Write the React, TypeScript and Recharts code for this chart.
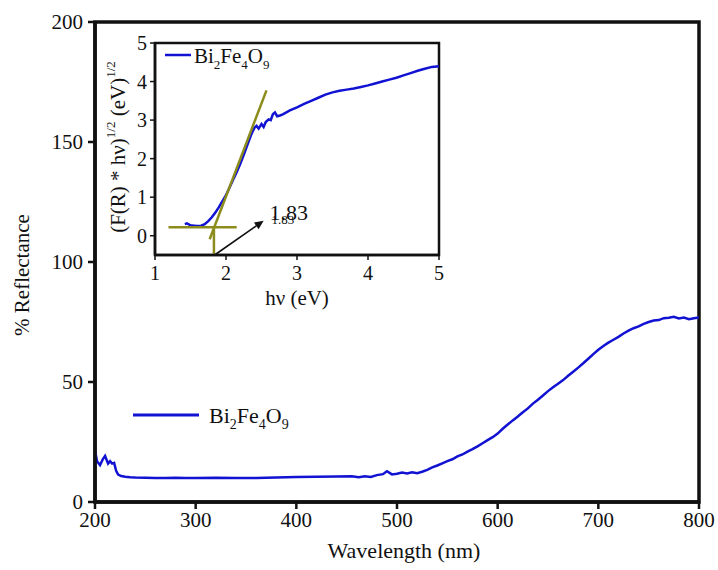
import React from 'react'
import { LineChart, Line, XAxis, YAxis, ReferenceArea, ReferenceLine, ReferenceDot, Legend } from 'recharts'

// main spectrum
const wavelength = [
  200, 202, 205, 208, 210, 213, 215, 217, 219, 221, 223, 226, 230, 235, 240, 250, 260, 270, 280, 290,
  300, 320, 340, 360, 380, 400, 420, 440, 455, 462, 468, 474, 480, 486, 490, 495, 500, 505, 510, 515,
  520, 525, 530, 535, 540, 545, 550, 555, 560, 565, 570, 575, 580, 585, 590, 595, 600, 605, 610, 615,
  620, 625, 630, 635, 640, 645, 650, 655, 660, 665, 670, 675, 680, 685, 690, 695, 700, 705, 710, 715,
  720, 725, 730, 735, 740, 745, 750, 755, 760, 765, 770, 775, 780, 785, 790, 795, 800,
]
const reflectance = [
  21.5, 17, 15.4, 18, 19.2, 16, 17, 16, 16.3, 13, 11.4, 10.8, 10.5, 10.3, 10.2, 10.1, 10.0, 10.0, 10.1, 10.0,
  10.0, 10.1, 10.0, 10.0, 10.2, 10.4, 10.5, 10.6, 10.7, 10.3, 10.7, 10.4, 11.2, 11.6, 12.8, 11.5, 11.8, 12.3, 11.9, 12.4,
  12.0, 12.6, 13.4, 14.4, 15.2, 16.1, 17.0, 17.8, 19.0, 19.8, 21.0, 22.0, 23.2, 24.5, 25.8, 27.0, 28.5, 30.5, 32.3, 34.0,
  35.6, 37.4, 39.0, 41.0, 42.6, 44.4, 46.2, 47.8, 49.3, 50.8, 52.6, 54.3, 56.0, 57.8, 59.7, 61.6, 63.4, 65.0, 66.4, 67.6,
  68.8, 70.2, 71.4, 72.4, 73.2, 74.2, 75.0, 75.6, 75.8, 76.6, 76.8, 77.2, 76.5, 76.9, 76.2, 76.6, 76.9,
]
const xTicks = [200, 300, 400, 500, 600, 700, 800]
const yTicks = [0, 50, 100, 150, 200]

// Tauc plot (inset)
const photonEnergy = [
  1.42, 1.45, 1.5, 1.55, 1.6, 1.65, 1.7, 1.75, 1.8, 1.85, 1.9, 1.95, 2.0, 2.05, 2.1, 2.15, 2.2, 2.25, 2.3, 2.35,
  2.4, 2.43, 2.46, 2.5, 2.53, 2.56, 2.6, 2.63, 2.66, 2.69, 2.72, 2.76, 2.8, 2.9, 3.0, 3.1, 3.2, 3.3, 3.4, 3.5,
  3.6, 3.7, 3.8, 3.9, 4.0, 4.1, 4.2, 4.3, 4.4, 4.5, 4.6, 4.7, 4.8, 4.9, 5.0,
]
const taucValue = [
  0.3, 0.32, 0.27, 0.26, 0.25, 0.26, 0.3, 0.38, 0.48, 0.6, 0.74, 0.9, 1.05, 1.25, 1.45, 1.65, 1.86, 2.1, 2.35, 2.6,
  2.8, 2.85, 2.78, 2.9, 2.82, 2.95, 3.02, 3.0, 3.15, 3.2, 3.1, 3.12, 3.15, 3.25, 3.33, 3.42, 3.5, 3.58, 3.66, 3.72,
  3.76, 3.79, 3.82, 3.86, 3.9, 3.95, 4.0, 4.05, 4.1, 4.16, 4.22, 4.28, 4.33, 4.38, 4.4,
]
const insetXTicks = [1, 2, 3, 4, 5]
const insetYTicks = [0, 1, 2, 3, 4, 5]
const bandGap = 1.83

const FONT = 'Liberation Serif, Times New Roman, DejaVu Serif, serif'
const BLUE = '#1212d2'
const OLIVE = '#8c8c1c'

const spectrum = wavelength.map((w, i) => ({ w, r: reflectance[i] }))
const tauc = photonEnergy.map((e, i) => ({ e, f: taucValue[i] }))

function Formula({ x, y, size }: { x: number; y: number; size: number }) {
  const sub = Math.round(size * 0.62)
  const d = Math.round(size * 0.28)
  return (
    <text x={x} y={y} fontSize={size} style={{ fontFamily: FONT }} fill="#111">
      Bi
      <tspan fontSize={sub} dy={d}>2</tspan>
      <tspan fontSize={size} dy={-d}>Fe</tspan>
      <tspan fontSize={sub} dy={d}>4</tspan>
      <tspan fontSize={size} dy={-d}>O</tspan>
      <tspan fontSize={sub} dy={d}>9</tspan>
    </text>
  )
}

function MainLegend() {
  return (
    <svg width={170} height={32} style={{ overflow: 'visible' }}>
      <line x1={0} y1={12} x2={66} y2={12} stroke={BLUE} strokeWidth={3} />
      <Formula x={76} y={20} size={22} />
    </svg>
  )
}

function InsetLegend() {
  return (
    <svg width={120} height={30} style={{ overflow: 'visible' }}>
      <line x1={0} y1={12} x2={26} y2={12} stroke={BLUE} strokeWidth={2.5} />
      <Formula x={29} y={20} size={21} />
    </svg>
  )
}

function Arrow(props: any) {
  const { x1, y1, x2, y2 } = props
  if (x1 == null) return null
  const ang = Math.atan2(y2 - y1, x2 - x1)
  const len = 9
  const w = 4
  const bx = x2 - len * Math.cos(ang)
  const by = y2 - len * Math.sin(ang)
  const px = -Math.sin(ang) * w
  const py = Math.cos(ang) * w
  return (
    <g>
      <line x1={x1} y1={y1} x2={bx} y2={by} stroke="#111" strokeWidth={1.6} />
      <polygon points={`${x2},${y2} ${bx + px},${by + py} ${bx - px},${by - py}`} fill="#111" />
    </g>
  )
}

function GapLabel(props: any) {
  const vb = props.viewBox || {}
  const cx = vb.cx ?? vb.x
  const cy = vb.cy ?? vb.y
  if (cx == null) return null
  return (
    <g style={{ fontFamily: FONT }} fill="#111">
      <text x={cx - 17} y={cy + 11} fontSize={13}>{bandGap.toFixed(2)}</text>
      <text x={cx - 19} y={cy + 7} fontSize={22}>{bandGap.toFixed(2)}</text>
    </g>
  )
}

function Inset() {
  const tick = { fontSize: 20, fill: '#111', style: { fontFamily: FONT } }
  return (
    <LineChart width={350} height={290} data={tauc} margin={{ top: 13, right: 11, left: 15, bottom: 35 }}>
      <XAxis
        dataKey="e"
        type="number"
        domain={[1, 5]}
        ticks={insetXTicks}
        allowDataOverflow
        height={30}
        tick={tick}
        tickSize={5}
        tickMargin={6}
        axisLine={{ stroke: '#111', strokeWidth: 2.5 }}
        tickLine={{ stroke: '#111', strokeWidth: 1.5 }}
        label={(p: any) => (
          <text
            x={p.viewBox.x + p.viewBox.width / 2}
            y={p.viewBox.y + 50}
            textAnchor="middle"
            fontSize={21}
            style={{ fontFamily: FONT }}
            fill="#111"
          >
            hν (eV)
          </text>
        )}
      />
      <YAxis
        type="number"
        domain={[-0.5, 5]}
        ticks={insetYTicks}
        allowDataOverflow
        width={40}
        tick={tick}
        tickSize={5}
        tickMargin={3}
        axisLine={{ stroke: '#111', strokeWidth: 2.5 }}
        tickLine={{ stroke: '#111', strokeWidth: 1.5 }}
        label={(p: any) => {
          const x = p.viewBox.x + 3
          const y = p.viewBox.y + p.viewBox.height / 2 - 2
          return (
            <text
              x={x}
              y={y}
              transform={`rotate(-90 ${x} ${y})`}
              textAnchor="middle"
              dominantBaseline="central"
              fontSize={21}
              style={{ fontFamily: FONT }}
              fill="#111"
            >
              (F(R) * hν)
              <tspan fontSize={13} dy={-8}>1/2</tspan>
              <tspan fontSize={21} dy={8}> (eV)</tspan>
              <tspan fontSize={13} dy={-8}>1/2</tspan>
            </text>
          )
        }}
      />
      <ReferenceArea x1={1} x2={5} y1={-0.5} y2={5} fill="none" stroke="#111" strokeWidth={2.5} ifOverflow="visible" />
      <Legend
        layout="vertical"
        align="center"
        verticalAlign="middle"
        wrapperStyle={{ left: 65, top: 13, width: 'auto' }}
        content={() => <InsetLegend />}
      />
      <Line dataKey="f" stroke={BLUE} strokeWidth={2.5} dot={false} isAnimationActive={false} />
      <ReferenceLine
        segment={[{ x: 1.77, y: -0.09 }, { x: 2.57, y: 3.77 }]}
        stroke={OLIVE}
        strokeWidth={2.5}
        ifOverflow="visible"
      />
      <ReferenceLine
        segment={[{ x: 1.19, y: 0.22 }, { x: 2.15, y: 0.22 }]}
        stroke={OLIVE}
        strokeWidth={2.5}
        ifOverflow="visible"
      />
      <ReferenceLine
        segment={[{ x: bandGap, y: 0.22 }, { x: bandGap, y: -0.5 }]}
        stroke={OLIVE}
        strokeWidth={2.5}
        ifOverflow="visible"
      />
      <ReferenceLine
        segment={[{ x: 1.84, y: -0.5 }, { x: 2.53, y: 0.39 }]}
        ifOverflow="visible"
        shape={(p: any) => <Arrow {...p} />}
      />
      <ReferenceDot x={2.88} y={0.6} r={0} fill="none" stroke="none" ifOverflow="visible" label={(p: any) => <GapLabel {...p} />} />
    </LineChart>
  )
}

export default function App() {
  const tick = { fontSize: 21, fill: '#111', style: { fontFamily: FONT } }
  return (
    <div style={{ position: 'absolute', left: 0, top: 0, width: 718, height: 570, background: '#fff', fontFamily: FONT }}>
      <LineChart width={718} height={570} data={spectrum} margin={{ top: 22, right: 19, left: 10, bottom: 38 }}>
        <XAxis
          dataKey="w"
          type="number"
          domain={[200, 800]}
          ticks={xTicks}
          allowDataOverflow
          height={30}
          tick={tick}
          tickSize={7}
          tickMargin={3}
          axisLine={{ stroke: '#111', strokeWidth: 3.5 }}
          tickLine={{ stroke: '#111', strokeWidth: 2.5 }}
          label={(p: any) => (
            <text
              x={p.viewBox.x + p.viewBox.width / 2 + 7}
              y={p.viewBox.y + 56}
              textAnchor="middle"
              fontSize={22}
              style={{ fontFamily: FONT }}
              fill="#111"
            >
              Wavelength (nm)
            </text>
          )}
        />
        <YAxis
          type="number"
          domain={[0, 200]}
          ticks={yTicks}
          allowDataOverflow
          width={85}
          tick={tick}
          tickSize={7}
          tickMargin={5}
          axisLine={{ stroke: '#111', strokeWidth: 3.5 }}
          tickLine={{ stroke: '#111', strokeWidth: 2.5 }}
          label={(p: any) => {
            const x = p.viewBox.x + 12
            const y = p.viewBox.y + p.viewBox.height / 2 + 13
            return (
              <text
                x={x}
                y={y}
                transform={`rotate(-90 ${x} ${y})`}
                textAnchor="middle"
                dominantBaseline="central"
                fontSize={21}
                style={{ fontFamily: FONT }}
                fill="#111"
              >
                % Reflectance
              </text>
            )
          }}
        />
        <ReferenceArea x1={200} x2={800} y1={0} y2={200} fill="none" stroke="#111" strokeWidth={3.5} ifOverflow="visible" />
        <Legend
          layout="vertical"
          align="center"
          verticalAlign="middle"
          wrapperStyle={{ left: 133, top: 403, width: 'auto' }}
          content={() => <MainLegend />}
        />
        <Line dataKey="r" stroke={BLUE} strokeWidth={2.5} dot={false} isAnimationActive={false} />
      </LineChart>
      <div style={{ position: 'absolute', left: 100, top: 30 }}>
        <Inset />
      </div>
    </div>
  )
}
